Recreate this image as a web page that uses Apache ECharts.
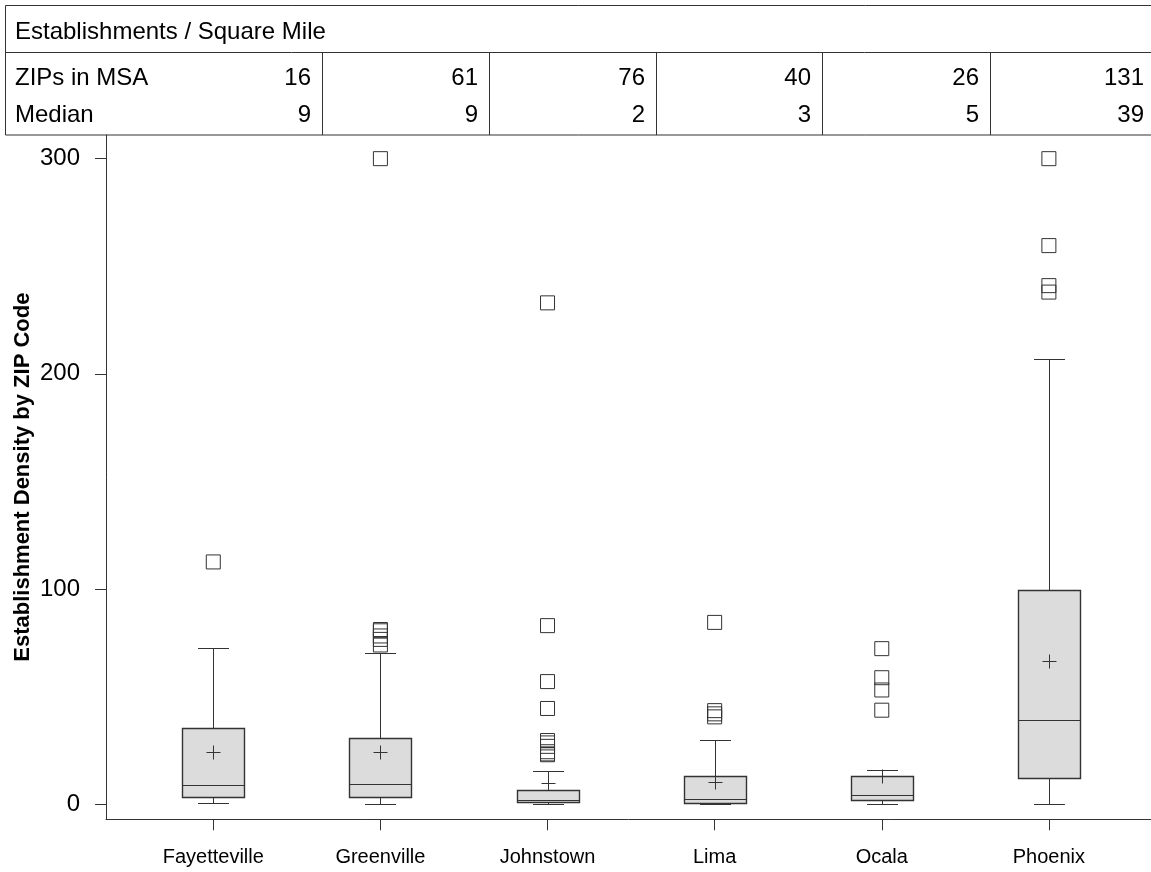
<!DOCTYPE html>
<html>
<head>
<meta charset="utf-8">
<script src="https://cdn.jsdelivr.net/npm/echarts@6/dist/echarts.min.js"></script>
<style>
  html, body { margin: 0; padding: 0; background: #fff; }
  #chart { width: 1151px; height: 872px; }
</style>
</head>
<body>
<div id="chart"></div>
<script>
// ---- data ----
const cities = ['Fayetteville', 'Greenville', 'Johnstown', 'Lima', 'Ocala', 'Phoenix'];
const zipsInMsa = [16, 61, 76, 40, 26, 131];
const medianTable = [9, 9, 2, 3, 5, 39];

const lowWhisker  = [0.6, 0.3, 0.2, 0.3, 0.2, 0];
const q1          = [3.3, 3.3, 1.1, 0.5, 2.0, 12.3];
const median      = [8.8, 9.4, 2.0, 2.6, 4.5, 39.2];
const q3          = [35.3, 31.0, 6.8, 13.0, 13.3, 99.4];
const highWhisker = [72.8, 70.3, 15.6, 29.8, 15.9, 206.8];
const meanValue   = [24.5, 24.5, 9.9, 10.4, 13.2, 66.5];

const outFayetteville = [112.6];
const outGreenville   = [300, 81.2, 80.6, 78.2, 76.6, 74.0];
const outJohnstown    = [233, 83, 57, 44.5, 29.6, 28.5, 26.9, 24.4, 23.4, 23];
const outLima         = [84.5, 43.5, 42, 40.6];
const outOcala        = [72.3, 58.8, 53.1, 43.7];
const outPhoenix      = [300, 259.6, 241, 238];

const yTicks = [0, 100, 200, 300];
const xTicks = [0, 1, 2, 3, 4, 5];

// ---- build ----
const outlierLists = [outFayetteville, outGreenville, outJohnstown, outLima, outOcala, outPhoenix];
const boxData = cities.map((c, i) => [i, lowWhisker[i], q1[i], median[i], q3[i], highWhisker[i], meanValue[i]]);
const outlierData = [];
outlierLists.forEach((list, i) => list.forEach(v => outlierData.push([i, v])));

const INK = '#333';
const half = 31, cap = 15.5, plus = 7;
function px(v) { return Math.round(v) + 0.5; }

function renderBox(params, api) {
  const x = api.value(0);
  const pLow = api.coord([x, api.value(1)]);
  const pQ1 = api.coord([x, api.value(2)]);
  const pMed = api.coord([x, api.value(3)]);
  const pQ3 = api.coord([x, api.value(4)]);
  const pHigh = api.coord([x, api.value(5)]);
  const pMean = api.coord([x, api.value(6)]);
  const cx = px(pLow[0]);
  const ls = { stroke: INK, lineWidth: 1 };
  return {
    type: 'group',
    children: [
      { type: 'line', shape: { x1: cx, y1: px(pHigh[1]), x2: cx, y2: px(pQ3[1]) }, style: ls },
      { type: 'line', shape: { x1: cx, y1: px(pQ1[1]), x2: cx, y2: px(pLow[1]) }, style: ls },
      { type: 'line', shape: { x1: cx - cap, y1: px(pHigh[1]), x2: cx + cap, y2: px(pHigh[1]) }, style: ls },
      { type: 'line', shape: { x1: cx - cap, y1: px(pLow[1]), x2: cx + cap, y2: px(pLow[1]) }, style: ls },
      { type: 'rect', shape: { x: cx - half, y: px(pQ3[1]), width: half * 2, height: Math.round(pQ1[1]) - Math.round(pQ3[1]) },
        style: { fill: '#dcdcdc', stroke: INK, lineWidth: 1.4 } },
      { type: 'line', shape: { x1: cx - half, y1: px(pMed[1]), x2: cx + half, y2: px(pMed[1]) }, style: ls },
      { type: 'line', shape: { x1: cx - plus, y1: px(pMean[1]), x2: cx + plus, y2: px(pMean[1]) }, style: ls },
      { type: 'line', shape: { x1: cx, y1: px(pMean[1]) - plus, x2: cx, y2: px(pMean[1]) + plus }, style: ls }
    ]
  };
}

// table graphics
const colRight = [322, 489, 656, 822, 990, 1155];
const tableFont = '24px "Liberation Sans", Arial, sans-serif';
const graphics = [
  { type: 'rect', shape: { x: 5.5, y: 5.5, width: 1160, height: 129.5 }, style: { fill: 'none', stroke: INK, lineWidth: 1 }, silent: true },
  { type: 'line', shape: { x1: 5, y1: 52.5, x2: 1151, y2: 52.5 }, style: { stroke: INK, lineWidth: 1 }, silent: true },
  { type: 'text', x: 15, y: 32, style: { text: 'Establishments / Square Mile', font: tableFont, fill: '#000', textVerticalAlign: 'middle' }, silent: true },
  { type: 'text', x: 15, y: 78, style: { text: 'ZIPs in MSA', font: tableFont, fill: '#000', textVerticalAlign: 'middle' }, silent: true },
  { type: 'text', x: 15, y: 115, style: { text: 'Median', font: tableFont, fill: '#000', textVerticalAlign: 'middle' }, silent: true }
];
colRight.forEach((r, i) => {
  if (i < colRight.length - 1) {
    graphics.push({ type: 'line', shape: { x1: r + 0.5, y1: 52, x2: r + 0.5, y2: 135 }, style: { stroke: INK, lineWidth: 1 }, silent: true });
  }
  graphics.push({ type: 'text', x: r - 11, y: 78, style: { text: String(zipsInMsa[i]), font: tableFont, fill: '#000', textAlign: 'right', textVerticalAlign: 'middle' }, silent: true });
  graphics.push({ type: 'text', x: r - 11, y: 115, style: { text: String(medianTable[i]), font: tableFont, fill: '#000', textAlign: 'right', textVerticalAlign: 'middle' }, silent: true });
});

const chart = echarts.init(document.getElementById('chart'), null, { renderer: 'canvas' });
chart.setOption({
  animation: false,
  backgroundColor: '#fff',
  textStyle: { fontFamily: '"Liberation Sans", Arial, sans-serif' },
  grid: { left: 106, right: 0, top: 135, height: 684.3, outerBoundsMode: 'none', containLabel: false },
  xAxis: {
    type: 'value',
    min: -0.642,
    max: 5.611,
    splitLine: { show: false },
    axisLine: { show: true, onZero: false, lineStyle: { color: INK, width: 1 } },
    axisTick: { show: true, customValues: xTicks, length: 11, lineStyle: { color: INK } },
    axisLabel: { customValues: xTicks, formatter: v => cities[v], fontSize: 20, color: '#000', margin: 28 }
  },
  yAxis: {
    type: 'value',
    min: -7,
    max: 311,
    name: 'Establishment Density by ZIP Code',
    nameLocation: 'middle',
    nameGap: 72,
    nameMoveOverlap: false,
    nameTextStyle: { fontSize: 22, fontWeight: 'bold', color: '#000' },
    splitLine: { show: false },
    axisLine: { show: true, onZero: false, lineStyle: { color: INK, width: 1 } },
    axisTick: { show: true, customValues: yTicks, length: 11, lineStyle: { color: INK } },
    axisLabel: { customValues: yTicks, fontSize: 24, color: '#000', margin: 26 }
  },
  series: [
    {
      type: 'custom',
      renderItem: renderBox,
      data: boxData,
      encode: { x: 0, y: [1, 2, 3, 4, 5, 6] },
      silent: true
    },
    {
      type: 'scatter',
      data: outlierData,
      symbol: 'rect',
      symbolSize: 14,
      itemStyle: { color: 'rgba(0,0,0,0)', borderColor: INK, borderWidth: 1, opacity: 1 },
      silent: true
    }
  ],
  graphic: graphics
});
</script>
</body>
</html>
